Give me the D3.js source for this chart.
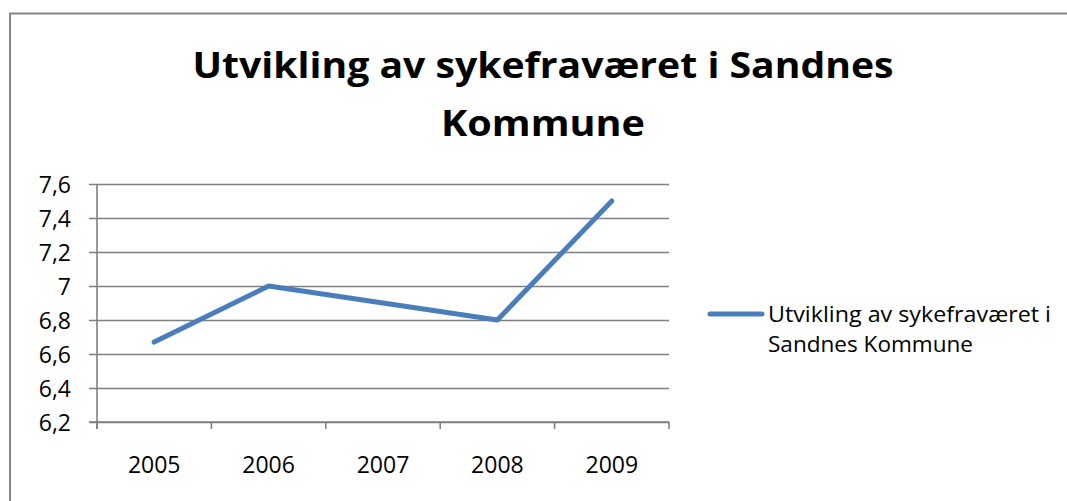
<!DOCTYPE html>
<html>
<head>
<meta charset="utf-8">
<script src="https://cdn.jsdelivr.net/npm/d3@7"></script>
<style>
  body { margin: 0; background: #fff; }
  text { font-family: "Open Sans", Lato, sans-serif; fill: #000; }
</style>
</head>
<body>
<div id="container"></div>
<script>
/* DATA */
const years = ["2005", "2006", "2007", "2008", "2009"];
const values = [6.67, 7.0, 6.9, 6.8, 7.5];
const yTicks = [6.2, 6.4, 6.6, 6.8, 7.0, 7.2, 7.4, 7.6];
const titleLines = ["Utvikling av sykefraværet i Sandnes", "Kommune"];
const legendLines = ["Utvikling av sykefraværet i", "Sandnes Kommune"];

const width = 1067,
      height = 501;

const plot = { left: 97, right: 669, top: 184, bottom: 422 };
const font = '"Open Sans", Lato, sans-serif';

const svg = d3.select("#container")
  .append("svg")
  .attr("width", width)
  .attr("height", height);

// chart frame (only top and left edge visible in the crop)
svg.append("path")
  .attr("d", "M10,501 V13.5 H1067")
  .attr("fill", "none")
  .attr("stroke", "#868686")
  .attr("stroke-width", 2);

/* SCALES */
const xScale = d3.scaleBand()
  .domain(years)
  .range([plot.left, plot.right])
  .padding(0);

const yScale = d3.scaleLinear()
  .domain([6.2, 7.6])
  .range([plot.bottom, plot.top]);

const fmt = d => String(+d.toFixed(1)).replace(".", ",");

// gridlines + y axis
const yAxis = d3.axisLeft(yScale)
  .tickValues(yTicks)
  .tickFormat(fmt)
  .tickSize(-(plot.right - plot.left));

const gy = svg.append("g")
  .attr("transform", "translate(" + plot.left + ",0)")
  .call(yAxis);
gy.select(".domain").remove();
gy.selectAll(".tick line")
  .attr("x1", -8)
  .attr("stroke", "#808080")
  .attr("stroke-width", 1.6);
gy.selectAll(".tick text")
  .attr("x", -26)
  .attr("dy", "0.36em")
  .style("font-size", "23px")
  .style("font-family", font);

svg.append("line")
  .attr("x1", plot.left).attr("x2", plot.left)
  .attr("y1", plot.top).attr("y2", plot.bottom + 7)
  .attr("stroke", "#808080")
  .attr("stroke-width", 1.6);

// x axis, ticks between categories
const xAxis = d3.axisBottom(xScale).tickSize(0).tickPadding(0);
const gx = svg.append("g")
  .attr("transform", "translate(0," + plot.bottom + ")")
  .call(xAxis);
gx.select(".domain").remove();
gx.selectAll(".tick text")
  .attr("y", 43)
  .attr("dy", "0.36em")
  .style("font-size", "23px")
  .style("font-family", font);

const boundaries = years.map(d => xScale(d)).concat([plot.right]);
svg.append("g").selectAll("line")
  .data(boundaries)
  .enter().append("line")
  .attr("x1", d => d).attr("x2", d => d)
  .attr("y1", plot.bottom).attr("y2", plot.bottom + 7)
  .attr("stroke", "#808080")
  .attr("stroke-width", 1.6);

svg.append("line")
  .attr("x1", plot.left - 8).attr("x2", plot.right)
  .attr("y1", plot.bottom).attr("y2", plot.bottom)
  .attr("stroke", "#808080")
  .attr("stroke-width", 1.6);

// series line
const line = d3.line()
  .x((d, i) => xScale(years[i]) + xScale.bandwidth() / 2)
  .y(d => yScale(d));

svg.append("path")
  .datum(values)
  .attr("d", line)
  .attr("fill", "none")
  .attr("stroke", "#4a7ebb")
  .attr("stroke-width", 5)
  .attr("stroke-linecap", "round")
  .attr("stroke-linejoin", "round");

// title
const titleWidths = [701, 204];
svg.append("g").selectAll("text")
  .data(titleLines)
  .enter().append("text")
  .attr("x", 543)
  .attr("y", (d, i) => 78 + i * 58)
  .attr("text-anchor", "middle")
  .attr("textLength", (d, i) => titleWidths[i])
  .attr("lengthAdjust", "spacingAndGlyphs")
  .style("font-size", "36px")
  .style("font-weight", "bold")
  .text(d => d);

// legend
svg.append("line")
  .attr("x1", 710).attr("x2", 762)
  .attr("y1", 314).attr("y2", 314)
  .attr("stroke", "#4a7ebb")
  .attr("stroke-width", 5)
  .attr("stroke-linecap", "round");

const legendWidths = [283, 205];
svg.append("g").selectAll("text")
  .data(legendLines)
  .enter().append("text")
  .attr("x", 768)
  .attr("y", (d, i) => 322 + i * 30)
  .attr("textLength", (d, i) => legendWidths[i])
  .attr("lengthAdjust", "spacingAndGlyphs")
  .style("font-size", "21px")
  .text(d => d);
</script>
</body>
</html>
